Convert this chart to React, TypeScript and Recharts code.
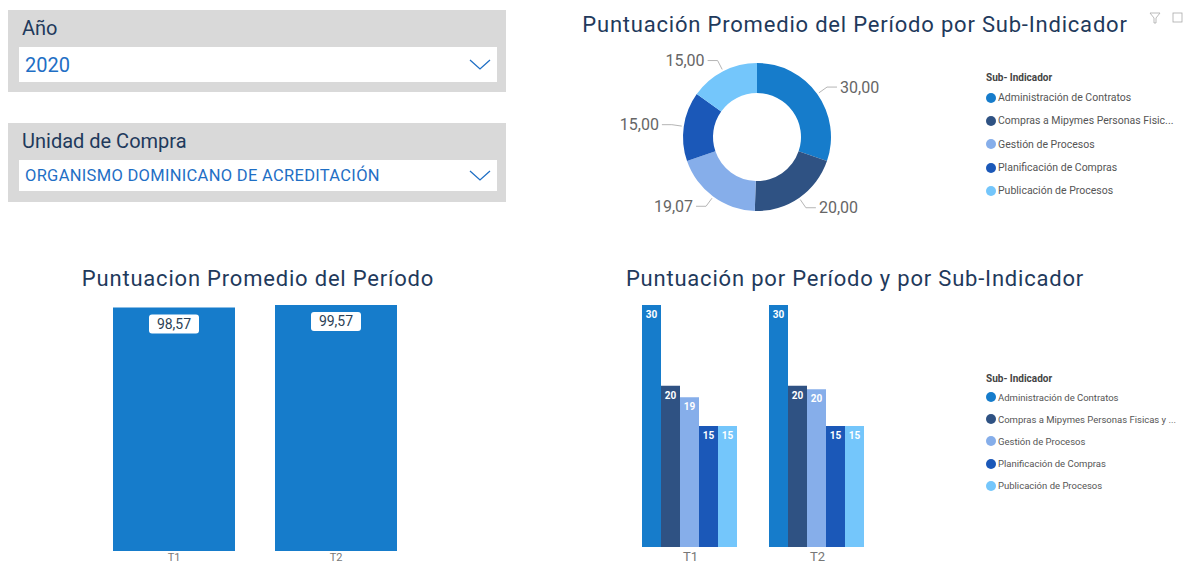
import { PieChart, Pie, Cell, BarChart, Bar, XAxis, YAxis, LabelList } from 'recharts'

const YEAR = '2020'
const BUYING_UNIT = 'ORGANISMO DOMINICANO DE ACREDITACIÓN'

const SUB_INDICATORS = [
  'Administración de Contratos',
  'Compras a Mipymes Personas Fisicas y Juridicas',
  'Gestión de Procesos',
  'Planificación de Compras',
  'Publicación de Procesos',
]
const SUB_KEYS = ['admin', 'compras', 'gestion', 'planif', 'public']
const COLORS = ['#167ccb', '#2f5283', '#86aeea', '#1b58b8', '#74c6fb']

// donut: average score per sub-indicator
const DONUT_VALUES = [30, 20, 19.07, 15, 15]

// bars: per period
const PERIODS = ['T1', 'T2']
const PERIOD_AVG = [98.57, 99.57]
const ADMIN = [30, 30]
const COMPRAS = [20, 20]
const GESTION = [18.57, 19.57]
const PLANIF = [15, 15]
const PUBLIC = [15, 15]

const FONT = 'Roboto, "Noto Sans", sans-serif'
const NAVY = '#1f3a5c'
const RAD = Math.PI / 180

const fmt2 = (v: number) => v.toFixed(2).replace('.', ',')
const shorten = (s: string, n: number) => (s.length > n ? s.slice(0, n) + '...' : s)

const donutData = SUB_INDICATORS.map((name, i) => ({ name, value: DONUT_VALUES[i] }))
const avgData = PERIODS.map((p, i) => ({ period: p, avg: PERIOD_AVG[i] }))
const subData = PERIODS.map((p, i) => ({
  period: p,
  admin: ADMIN[i],
  compras: COMPRAS[i],
  gestion: GESTION[i],
  planif: PLANIF[i],
  public: PUBLIC[i],
}))

function DonutLabel(props: any) {
  const { cx, cy, midAngle, outerRadius, value } = props
  const cos = Math.cos(-midAngle * RAD)
  const sin = Math.sin(-midAngle * RAD)
  const sx = cx + (outerRadius + 2) * cos
  const sy = cy + (outerRadius + 2) * sin
  const mx = cx + (outerRadius + 12) * cos
  const my = cy + (outerRadius + 12) * sin
  const dir = cos >= 0 ? 1 : -1
  const ex = mx + dir * 10
  return (
    <g>
      <path d={`M${sx},${sy}L${mx},${my}L${ex},${my}`} stroke="#b5b5b5" fill="none" />
      <text
        x={ex + dir * 3}
        y={my}
        dy="0.35em"
        textAnchor={dir > 0 ? 'start' : 'end'}
        fill="#666"
        fontSize={16}
        fontFamily={FONT}
      >
        {fmt2(value)}
      </text>
    </g>
  )
}

function AvgLabel(props: any) {
  const { x, y, width, value } = props
  const cx = x + width / 2
  return (
    <g>
      <rect x={cx - 25} y={y + 7} width={50} height={19} rx={3} fill="#fff" />
      <text x={cx} y={y + 16.5} dy="0.35em" textAnchor="middle" fontSize={14} fill="#2b3f55" fontFamily={FONT}>
        {fmt2(value)}
      </text>
    </g>
  )
}

function Slicer({ top, height, title, value, valueSize, boxTop, boxHeight, spacing }: any) {
  return (
    <div style={{ position: 'absolute', left: 8, top, width: 498, height, background: '#d9d9d9' }}>
      <div style={{ position: 'absolute', left: 14, top: 6, fontSize: 20, color: NAVY, fontFamily: FONT }}>{title}</div>
      <div
        style={{
          position: 'absolute',
          left: 11,
          top: boxTop,
          width: 478,
          height: boxHeight,
          background: '#fff',
        }}
      >
        <div
          style={{
            position: 'absolute',
            left: 6,
            top: 0,
            bottom: 0,
            display: 'flex',
            alignItems: 'center',
            fontSize: valueSize,
            letterSpacing: spacing,
            color: '#1f6fc5',
            fontFamily: FONT,
          }}
        >
          {value}
        </div>
        <svg style={{ position: 'absolute', right: 6, top: '50%', marginTop: -6 }} width={22} height={12}>
          <polyline points="1,1 11,10 21,1" fill="none" stroke="#1f6fc5" strokeWidth={1.3} />
        </svg>
      </div>
    </div>
  )
}

function Legend({ left, top, labels, gap, size, titleH }: any) {
  return (
    <div style={{ position: 'absolute', left, top, fontFamily: FONT }}>
      <div style={{ fontSize: 10, fontWeight: 700, color: '#444', height: titleH }}>Sub- Indicador</div>
      {labels.map((l: string, i: number) => (
        <div key={l} style={{ display: 'flex', alignItems: 'center', height: gap, fontSize: size, color: '#555' }}>
          <span
            style={{ width: 10, height: 10, borderRadius: 5, background: COLORS[i], marginRight: 2, flex: 'none' }}
          />
          {l}
        </div>
      ))}
    </div>
  )
}

const titleStyle = (left: number, top: number, width: number): any => ({
  position: 'absolute',
  left,
  top,
  width,
  textAlign: 'center',
  fontSize: 22,
  color: NAVY,
  fontFamily: FONT,
  letterSpacing: 0.8,
  whiteSpace: 'nowrap',
})

export default function App() {
  return (
    <div style={{ position: 'absolute', left: 0, top: 0, width: 1185, height: 565, background: '#fff', overflow: 'hidden' }}>
      <Slicer top={10} height={82} title="Año" value={YEAR} valueSize={20} boxTop={37} boxHeight={35} spacing={0} />
      <Slicer
        top={123}
        height={79}
        title="Unidad de Compra"
        value={BUYING_UNIT}
        valueSize={16.5}
        boxTop={37}
        boxHeight={31}
        spacing={0.3}
      />

      <div style={titleStyle(560, 12, 590)}>Puntuación Promedio del Período por Sub-Indicador</div>
      <svg style={{ position: 'absolute', left: 1149, top: 12 }} width={36} height={14}>
        <path d="M1,1 L11,1 L7,6 L7,11 L5,11 L5,6 Z" fill="none" stroke="#aaa" strokeWidth={0.8} />
        <rect x={24} y={1} width={9} height={9} fill="none" stroke="#aaa" strokeWidth={0.8} />
      </svg>

      <div style={{ position: 'absolute', left: 580, top: 40 }}>
        <PieChart width={400} height={190} margin={{ top: 0, right: 0, bottom: 0, left: 0 }}>
          <Pie
            data={donutData}
            dataKey="value"
            nameKey="name"
            cx={177}
            cy={97}
            innerRadius={44}
            outerRadius={74}
            startAngle={90}
            endAngle={-270}
            stroke="none"
            label={DonutLabel}
            labelLine={false}
            isAnimationActive={false}
          >
            {donutData.map((d, i) => (
              <Cell key={d.name} fill={COLORS[i]} />
            ))}
          </Pie>
        </PieChart>
      </div>
      <Legend left={986} top={72} titleH={14} labels={SUB_INDICATORS.map((s) => shorten(s, 32))} gap={23.3} size={10.5} />

      <div style={titleStyle(60, 266, 396)}>Puntuacion Promedio del Período</div>
      <div style={{ position: 'absolute', left: 60, top: 290 }}>
        <BarChart width={400} height={275} data={avgData} margin={{ top: 15, right: 43, bottom: 0, left: 33 }} barCategoryGap={20}>
          <XAxis
            dataKey="period"
            axisLine={false}
            tickLine={false}
            tickSize={0}
            tickMargin={2}
            height={14}
            tick={{ fill: '#777', fontSize: 11, fontFamily: FONT }}
          />
          <YAxis hide domain={[0, 'dataMax']} />
          <Bar dataKey="avg" fill="#167ccb" isAnimationActive={false}>
            <LabelList dataKey="avg" content={AvgLabel} />
          </Bar>
        </BarChart>
      </div>

      <div style={titleStyle(600, 266, 510)}>Puntuación por Período y por Sub-Indicador</div>
      <div style={{ position: 'absolute', left: 600, top: 290 }}>
        <BarChart width={300} height={275} data={subData} margin={{ top: 15, right: 19, bottom: 0, left: 27 }} barCategoryGap={15} barGap={0}>
          <XAxis
            dataKey="period"
            axisLine={false}
            tickLine={false}
            tickSize={0}
            tickMargin={5}
            height={18}
            tick={{ fill: '#777', fontSize: 13, fontFamily: FONT }}
          />
          <YAxis hide domain={[0, 'dataMax']} />
          {SUB_KEYS.map((k, i) => (
            <Bar key={k} dataKey={k} fill={COLORS[i]} isAnimationActive={false}>
              <LabelList
                dataKey={k}
                position="insideTop"
                offset={6}
                fill="#fff"
                fontSize={10}
                fontWeight={700}
                fontFamily={FONT}
                formatter={(v: any) => Math.round(Number(v))}
              />
            </Bar>
          ))}
        </BarChart>
      </div>
      <Legend left={986} top={373} titleH={13} labels={SUB_INDICATORS.map((s) => shorten(s, 37))} gap={22.2} size={9.5} />
    </div>
  )
}
